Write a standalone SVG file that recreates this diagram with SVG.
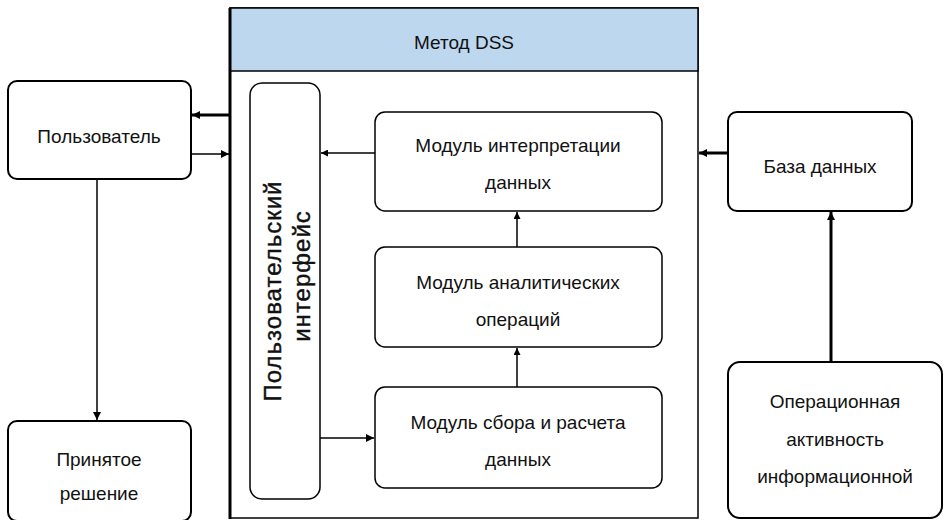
<svg xmlns="http://www.w3.org/2000/svg" width="944" height="520" viewBox="0 0 944 520">
<defs>
<style>
.box{fill:#fff;stroke:#000;stroke-width:1.5}
.obox{fill:#fff;stroke:#000;stroke-width:2}
.t{font-family:"Liberation Sans",Arial,sans-serif;font-size:19px;fill:#111;text-anchor:middle}
.tv{font-family:"Liberation Sans",Arial,sans-serif;font-size:24px;letter-spacing:1px;fill:#111;stroke:#111;stroke-width:0.4;text-anchor:middle}
.ln{stroke:#000;stroke-width:1.5;fill:none}
.lnb{stroke:#000;stroke-width:3;fill:none}
</style>
<marker id="ah" viewBox="0 0 10 10" refX="10" refY="5" markerWidth="7" markerHeight="7" markerUnits="userSpaceOnUse" orient="auto"><path d="M0,0 L10,5 L0,10 z" fill="#000"/></marker>
<marker id="ahb" viewBox="0 0 10 10" refX="10" refY="5" markerWidth="8" markerHeight="9" markerUnits="userSpaceOnUse" orient="auto"><path d="M0,0 L10,5 L0,10 z" fill="#000"/></marker>
</defs>
<g id="dss">
<rect x="230" y="8" width="468" height="510" fill="#fff" stroke="#000" stroke-width="1.5"/>
<rect x="230" y="8" width="468" height="63" fill="#BDD7EE" stroke="#000" stroke-width="1.5"/>
<line x1="230" y1="8" x2="230" y2="519" stroke="#000" stroke-width="3"/>
<text class="t" x="464" y="49">Метод DSS</text>
</g>
<g id="user">
<rect class="obox" x="8" y="81" width="183" height="98" rx="9"/>
<text class="t" x="99" y="143">Пользователь</text>
</g>
<g id="decision">
<rect class="obox" x="8" y="421" width="183" height="100" rx="9"/>
<text class="t" x="99" y="466">Принятое</text>
<text class="t" x="99" y="500">решение</text>
</g>
<g id="ui">
<rect class="box" x="250" y="83" width="70" height="416" rx="12"/>
<text class="tv" transform="translate(281,291) rotate(-90)">Пользовательский</text>
<text class="tv" transform="translate(310,276) rotate(-90)">интерфейс</text>
</g>
<g id="m1">
<rect class="box" x="375" y="112" width="287" height="99" rx="10"/>
<text class="t" x="518" y="152">Модуль интерпретации</text>
<text class="t" x="518" y="189">данных</text>
</g>
<g id="m2">
<rect class="box" x="375" y="247" width="287" height="100" rx="10"/>
<text class="t" x="518" y="289">Модуль аналитических</text>
<text class="t" x="518" y="326">операций</text>
</g>
<g id="m3">
<rect class="box" x="375" y="387" width="287" height="101" rx="10"/>
<text class="t" x="518" y="429">Модуль сбора и расчета</text>
<text class="t" x="518" y="466">данных</text>
</g>
<g id="db">
<rect class="obox" x="728" y="112" width="184" height="99" rx="9"/>
<text class="t" x="820" y="173">База данных</text>
</g>
<g id="ops">
<rect class="obox" x="728" y="362" width="214" height="156" rx="12"/>
<text class="t" x="835" y="408">Операционная</text>
<text class="t" x="835" y="446">активность</text>
<text class="t" x="835" y="483">информационной</text>
</g>
<g id="connectors">
<line class="lnb" x1="230" y1="115" x2="192" y2="115" marker-end="url(#ahb)"/>
<line class="ln" x1="191" y1="154" x2="229" y2="154" marker-end="url(#ahb)"/>
<line class="ln" x1="97" y1="179" x2="97" y2="420" marker-end="url(#ahb)"/>
<line class="ln" x1="375" y1="153" x2="321" y2="153" marker-end="url(#ah)"/>
<line class="ln" x1="517" y1="247" x2="517" y2="212" marker-end="url(#ah)"/>
<line class="ln" x1="517" y1="387" x2="517" y2="348" marker-end="url(#ah)"/>
<line class="ln" x1="320" y1="438" x2="374" y2="438" marker-end="url(#ahb)"/>
<line class="lnb" x1="728" y1="153" x2="699" y2="153" marker-end="url(#ahb)"/>
<line class="lnb" x1="831" y1="362" x2="831" y2="212" marker-end="url(#ahb)"/>
</g>
</svg>
